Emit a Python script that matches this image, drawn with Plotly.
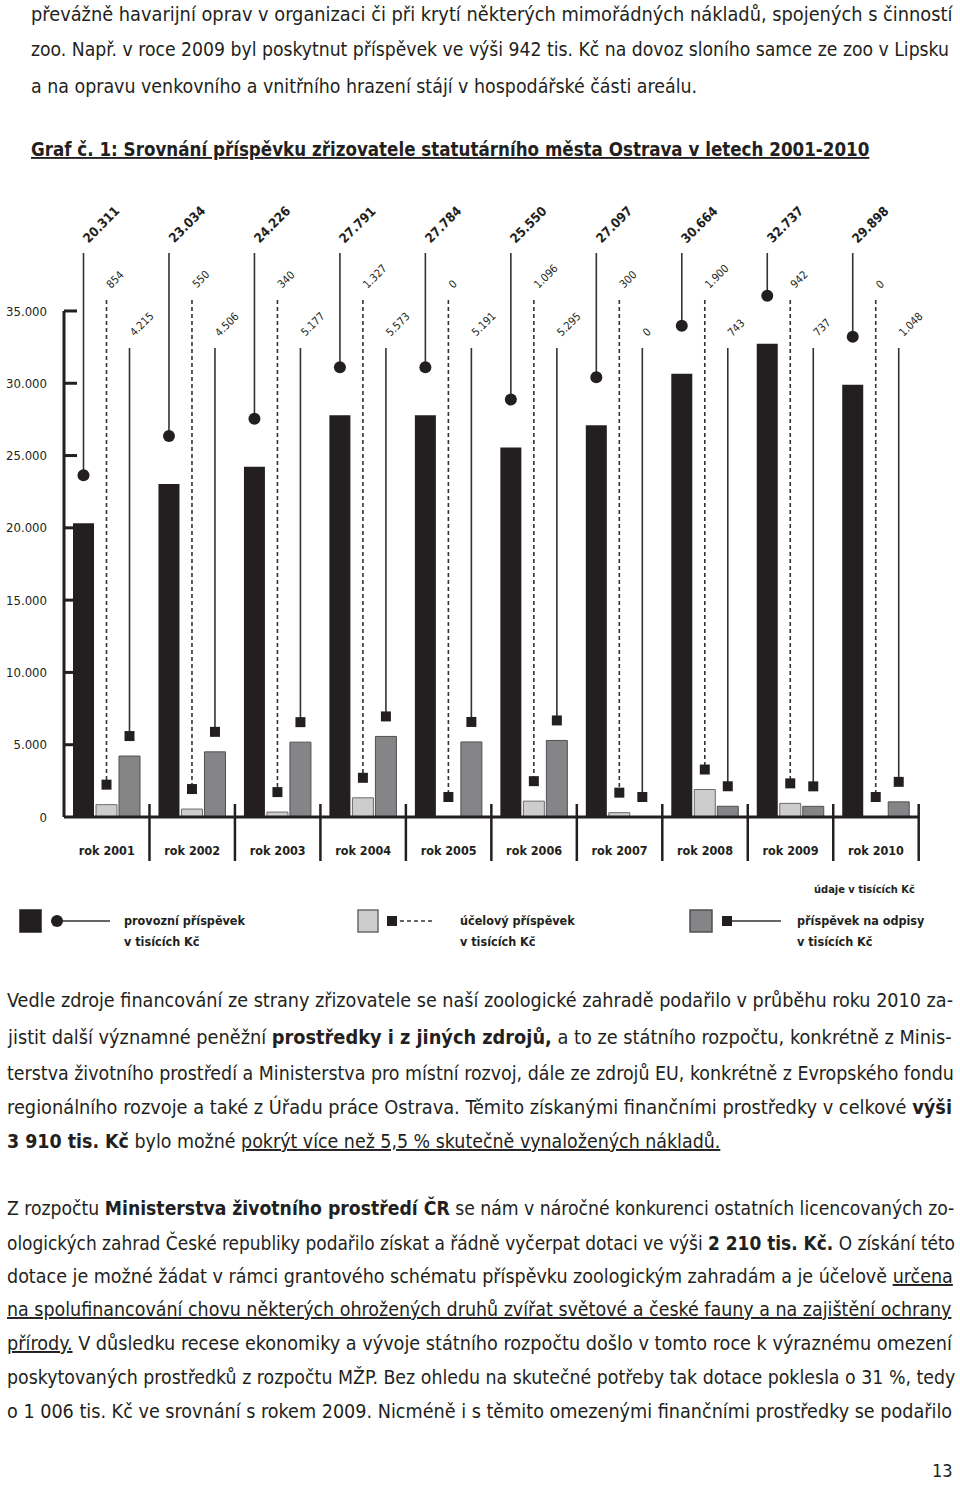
import plotly.graph_objects as go

# ---------------- data ----------------
years = ["rok 2001", "rok 2002", "rok 2003", "rok 2004", "rok 2005",
         "rok 2006", "rok 2007", "rok 2008", "rok 2009", "rok 2010"]
provozni = [20311, 23034, 24226, 27791, 27784, 25550, 27097, 30664, 32737, 29898]
ucelovy = [854, 550, 340, 1327, 0, 1096, 300, 1900, 942, 0]
odpisy = [4215, 4506, 5177, 5573, 5191, 5295, 0, 743, 737, 1048]
y_ticks = [0, 5000, 10000, 15000, 20000, 25000, 30000, 35000]

para1 = [
    "převážně havarijní oprav v organizaci či při krytí některých mimořádných nákladů, spojených s činností",
    "zoo. Např. v roce 2009 byl poskytnut příspěvek ve výši 942 tis. Kč na dovoz sloního samce ze zoo v Lipsku",
    "a na opravu venkovního a vnitřního hrazení stájí v hospodářské části areálu.",
]
title_text = "Graf č. 1: Srovnání příspěvku zřizovatele statutárního města Ostrava v letech 2001-2010"
para2 = [
    "Vedle zdroje financování ze strany zřizovatele se naší zoologické zahradě podařilo v průběhu roku 2010 za-",
    "jistit další významné peněžní <b>prostředky i z jiných zdrojů,</b> a to ze státního rozpočtu, konkrétně z Minis-",
    "terstva životního prostředí a Ministerstva pro místní rozvoj, dále ze zdrojů EU, konkrétně z Evropského fondu",
    "regionálního rozvoje a také z Úřadu práce Ostrava. Těmito získanými finančními prostředky v celkové <b>výši</b>",
    "<b>3 910 tis. Kč</b> bylo možné <u>pokrýt více než 5,5 % skutečně vynaložených nákladů.</u>",
]
para3 = [
    "Z rozpočtu <b>Ministerstva životního prostředí ČR</b> se nám v náročné konkurenci ostatních licencovaných zo-",
    "ologických zahrad České republiky podařilo získat a řádně vyčerpat dotaci ve výši <b>2 210 tis. Kč.</b> O získání této",
    "dotace je možné žádat v rámci grantového schématu příspěvku zoologickým zahradám a je účelově <u>určena</u>",
    "<u>na spolufinancování chovu některých ohrožených druhů zvířat světové a české fauny a na zajištění ochrany</u>",
    "<u>přírody.</u> V důsledku recese ekonomiky a vývoje státního rozpočtu došlo v tomto roce k výraznému omezení",
    "poskytovaných prostředků z rozpočtu MŽP. Bez ohledu na skutečné potřeby tak dotace poklesla o 31 %, tedy",
    "o 1 006 tis. Kč ve srovnání s rokem 2009. Nicméně i s těmito omezenými finančními prostředky se podařilo",
]
legend_labels = ["provozní příspěvek", "účelový příspěvek", "příspěvek na odpisy"]

# ---------------- geometry helpers ----------------
W, H = 960, 1489
X0, GW = 64.0, 85.47          # px of group 0 start, px per group
Y0, K = 817.0, 72.29 / 5000   # px of value 0, px per unit

def ux(px):
    return (px - X0) / GW

def vy(py):
    return (Y0 - py) / K

def pxp(px):
    return px / W

def pyp(py):
    return 1 - py / H

FONT = "DejaVu Sans Condensed, Liberation Sans Narrow, Liberation Sans, sans-serif"
INK = "#231f20"

OFF_B, OFF_L, OFF_G = ux(83.5), ux(106.5), ux(129.5)
BW = 21 / GW
n = len(years)
xb = [i + OFF_B for i in range(n)]
xl = [i + OFF_L for i in range(n)]
xg = [i + OFF_G for i in range(n)]

def fmt(v):
    return f"{v:,}".replace(",", ".")

fig = go.Figure()

# bars
fig.add_bar(x=xb, y=provozni, width=BW, marker=dict(color=INK, line=dict(width=0)),
            name=legend_labels[0], showlegend=False)
fig.add_bar(x=xl, y=ucelovy, width=BW, marker=dict(color="#cdcdcd", line=dict(color="#6a6a6a", width=1)),
            name=legend_labels[1], showlegend=False)
fig.add_bar(x=xg, y=odpisy, width=BW, marker=dict(color="#858588", line=dict(color="#505052", width=1)),
            name=legend_labels[2], showlegend=False)

# stems + markers
circ_off = 48 / K
sq_off = 20 / K
top_b, top_l, top_g = vy(253), vy(300), vy(348)

def stem(xs, vals, off, top):
    sx, sy = [], []
    for x, v in zip(xs, vals):
        sx += [x, x, None]
        sy += [top, v + off, None]
    return sx, sy

sx, sy = stem(xb, provozni, circ_off, top_b)
fig.add_scatter(x=sx, y=sy, mode="lines", line=dict(color="#333", width=1.6), showlegend=False, hoverinfo="skip")
sx, sy = stem(xl, ucelovy, sq_off, top_l)
fig.add_scatter(x=sx, y=sy, mode="lines", line=dict(color="#333", width=1.6, dash="4px,3px"), showlegend=False, hoverinfo="skip")
sx, sy = stem(xg, odpisy, sq_off, top_g)
fig.add_scatter(x=sx, y=sy, mode="lines", line=dict(color="#333", width=1.6), showlegend=False, hoverinfo="skip")

fig.add_scatter(x=xb, y=[v + circ_off for v in provozni], mode="markers",
                marker=dict(symbol="circle", size=12, color=INK), showlegend=False)
fig.add_scatter(x=xl, y=[v + sq_off for v in ucelovy], mode="markers",
                marker=dict(symbol="square", size=10, color=INK), showlegend=False)
fig.add_scatter(x=xg, y=[v + sq_off for v in odpisy], mode="markers",
                marker=dict(symbol="square", size=10, color=INK), showlegend=False)

annotations = []
shapes = []

# value labels (rotated)
for i in range(n):
    annotations.append(dict(x=i + ux(83.5 - 6), y=vy(249), xref="x", yref="y", text="<b>" + fmt(provozni[i]) + "</b>",
                            textangle=-45, xanchor="left", yanchor="bottom", showarrow=False,
                            font=dict(family=FONT, size=13, color=INK)))
    annotations.append(dict(x=i + ux(106.5 - 5), y=vy(294), xref="x", yref="y", text=fmt(ucelovy[i]),
                            textangle=-45, xanchor="left", yanchor="bottom", showarrow=False,
                            font=dict(family=FONT, size=11, color=INK)))
    annotations.append(dict(x=i + ux(129.5 - 5), y=vy(342), xref="x", yref="y", text=fmt(odpisy[i]),
                            textangle=-45, xanchor="left", yanchor="bottom", showarrow=False,
                            font=dict(family=FONT, size=11, color=INK)))

# axis lines, ticks, separators
shapes.append(dict(type="line", xref="x", yref="y", x0=0, x1=0, y0=0, y1=35000,
                   line=dict(color=INK, width=3), layer="above"))
shapes.append(dict(type="line", xref="x", yref="y", x0=0, x1=n, y0=0, y1=0,
                   line=dict(color=INK, width=3), layer="above"))
for t in y_ticks[1:]:
    shapes.append(dict(type="line", xref="x", yref="y", x0=0, x1=ux(77), y0=t, y1=t,
                       line=dict(color=INK, width=3), layer="below"))
for i in range(1, n + 1):
    shapes.append(dict(type="line", xref="x", yref="y", x0=i, x1=i, y0=vy(804), y1=vy(861),
                       line=dict(color=INK, width=2.5), layer="above"))

# body text (per-line sizes approximate the justified right edge)
def add_lines(lines, x_px, ys, sizes, bold=False):
    for t, yy, sz in zip(lines, ys, sizes):
        annotations.append(dict(x=pxp(x_px), y=pyp(yy), xref="paper", yref="paper",
                                text=("<b>" + t + "</b>") if bold else t,
                                xanchor="left", yanchor="middle", showarrow=False,
                                font=dict(family=FONT, size=sz, color=INK)))

add_lines(para1, 29, [14, 50, 86], [19.8, 19.2, 19.4])
add_lines(["<u>" + title_text + "</u>"], 29, [150], [18.6], bold=True)
add_lines(para2, 5, [1001, 1037, 1073, 1107, 1141], [19.6, 19.75, 19.4, 19.8, 19.4])
add_lines(para3, 5, [1208, 1242, 1276, 1309, 1343, 1377, 1411],
          [19.2, 18.9, 19.5, 19.45, 19.65, 19.35, 19.6])
annotations.append(dict(x=pxp(955), y=pyp(1470), xref="paper", yref="paper", text="13",
                        xanchor="right", yanchor="middle", showarrow=False,
                        font=dict(family=FONT, size=18, color=INK)))

# legend (manual)
annotations.append(dict(x=pxp(917), y=pyp(890), xref="paper", yref="paper", text="<b>údaje v tisících Kč</b>",
                        xanchor="right", yanchor="middle", showarrow=False,
                        font=dict(family=FONT, size=11, color=INK)))
leg = [
    dict(sq=(20, 41), fill=INK, edge=INK, mk=57, line=(57, 110), dash="solid", circle=True, tx=122),
    dict(sq=(358, 378), fill="#cdcdcd", edge="#6a6a6a", mk=392, line=(400, 433), dash="4px,3px", circle=False, tx=458),
    dict(sq=(690, 712), fill="#858588", edge="#505052", mk=727, line=(727, 781), dash="solid", circle=False, tx=795),
]
for lab, L in zip(legend_labels, leg):
    shapes.append(dict(type="rect", xref="paper", yref="paper", x0=pxp(L["sq"][0]), x1=pxp(L["sq"][1]),
                       y0=pyp(932), y1=pyp(910), fillcolor=L["fill"], line=dict(color=L["edge"], width=1.5)))
    shapes.append(dict(type="line", xref="paper", yref="paper", x0=pxp(L["line"][0]), x1=pxp(L["line"][1]),
                       y0=pyp(921), y1=pyp(921), line=dict(color="#333", width=1.6, dash=L["dash"])))
    if L["circle"]:
        shapes.append(dict(type="circle", xref="paper", yref="paper", x0=pxp(L["mk"] - 6), x1=pxp(L["mk"] + 6),
                           y0=pyp(927), y1=pyp(915), fillcolor=INK, line=dict(width=0)))
    else:
        shapes.append(dict(type="rect", xref="paper", yref="paper", x0=pxp(L["mk"] - 5), x1=pxp(L["mk"] + 5),
                           y0=pyp(926), y1=pyp(916), fillcolor=INK, line=dict(width=0)))
    annotations.append(dict(x=pxp(L["tx"]), y=pyp(920), xref="paper", yref="paper", text="<b>" + lab + "</b>",
                            xanchor="left", yanchor="middle", showarrow=False,
                            font=dict(family=FONT, size=12.5, color=INK)))
    annotations.append(dict(x=pxp(L["tx"]), y=pyp(941), xref="paper", yref="paper", text="<b>v tisících Kč</b>",
                            xanchor="left", yanchor="middle", showarrow=False,
                            font=dict(family=FONT, size=12.5, color=INK)))

fig.update_layout(
    width=W, height=H, margin=dict(l=0, r=0, t=0, b=0),
    paper_bgcolor="white", plot_bgcolor="white",
    separators=",.", barmode="overlay", showlegend=False,
    font=dict(family=FONT, color=INK),
    xaxis=dict(domain=[pxp(58), pxp(925)], range=[ux(58), ux(925)],
               anchor="free", position=pyp(817),
               tickvals=[i + 0.5 for i in range(n)], ticktext=["<b>" + y + "</b>" for y in years],
               ticks="", showline=False, showgrid=False, zeroline=False,
               tickfont=dict(family=FONT, size=12.5, color=INK), ticklabelstandoff=24),
    yaxis=dict(domain=[pyp(875), pyp(190)], range=[vy(875), vy(190)],
               tickvals=y_ticks, tickformat=",d", ticks="", showline=False, showgrid=False,
               zeroline=False, tickfont=dict(family=FONT, size=13, color=INK), ticklabelstandoff=10),
    annotations=annotations, shapes=shapes,
)

fig.write_html("out.html")
